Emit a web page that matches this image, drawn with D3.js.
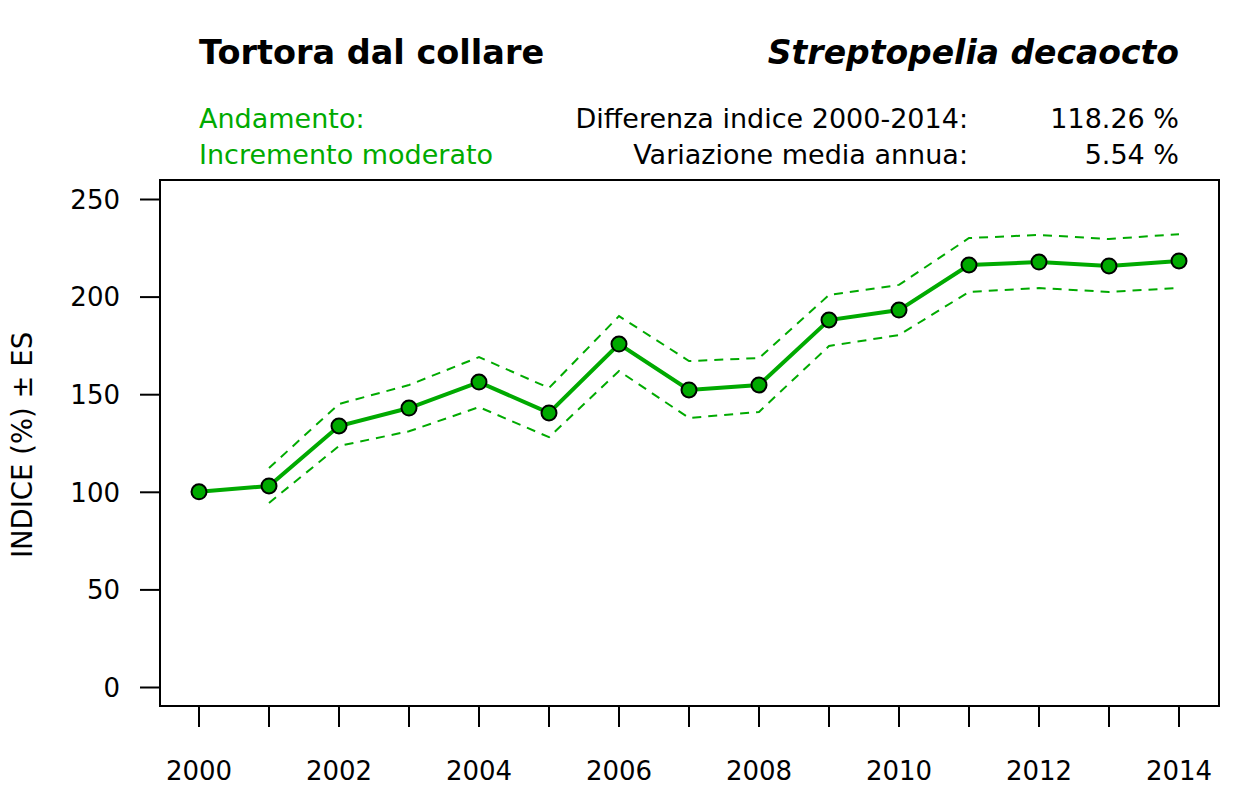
<!DOCTYPE html>
<html>
<head>
<meta charset="utf-8">
<script src="https://cdn.jsdelivr.net/npm/d3@7"></script>
<style>
  body { margin: 0; background: #fff; }
  svg text { font-family: "DejaVu Sans", Verdana, sans-serif; }
</style>
</head>
<body>
<div id="chart"></div>
<script>
// index values
var years = [2000, 2001, 2002, 2003, 2004, 2005, 2006, 2007, 2008, 2009, 2010, 2011, 2012, 2013, 2014];
var index = [100, 103, 133.7, 142.9, 156.2, 140.4, 175.7, 152.2, 154.7, 188, 193.1, 216.2, 217.7, 215.7, 218.26];
var upper = [null, 112.2, 145, 154.7, 169, 153.2, 190, 167, 168.5, 200.8, 206, 230, 231.6, 229.5, 232];
var lower = [null, 94.3, 123.5, 131, 143.4, 128, 161.9, 137.8, 140.9, 174.7, 180.3, 202.4, 204.4, 202.4, 204.4];
var yTicks = [0, 50, 100, 150, 200, 250];
var xLabels = [2000, 2002, 2004, 2006, 2008, 2010, 2012, 2014];

var green = "#00aa00";

var width = 1259, height = 787;
var box = { left: 160, right: 1219, top: 180, bottom: 706 };

var svg = d3.select("#chart").append("svg")
    .attr("width", width)
    .attr("height", height);

var x = d3.scaleLinear().domain([2000, 2014]).range([199, 1179]);
var y = d3.scaleLinear().domain([0, 250]).range([687, 199]);

// plot frame
svg.append("rect")
    .attr("x", box.left)
    .attr("y", box.top)
    .attr("width", box.right - box.left)
    .attr("height", box.bottom - box.top)
    .attr("fill", "none")
    .attr("stroke", "#000")
    .attr("stroke-width", 2);

// y axis
var yAxis = svg.append("g")
    .attr("transform", "translate(" + (box.left - 20) + ",0)")
    .call(d3.axisLeft(y).tickValues(yTicks).tickSize(0).tickPadding(20));
yAxis.select(".domain").remove();
yAxis.selectAll(".tick line").remove();
yAxis.selectAll(".tick").append("line")
    .attr("x1", 0).attr("x2", 20)
    .attr("stroke", "#000").attr("stroke-width", 2);
yAxis.selectAll("text")
    .attr("font-size", 26)
    .attr("fill", "#000")
    .attr("dy", "0.36em");

// x axis: ticks every year, labels every other year
var xAxis = svg.append("g")
    .attr("transform", "translate(0," + box.bottom + ")");
xAxis.selectAll("line.tick")
    .data(years)
    .enter().append("line")
    .attr("class", "tick")
    .attr("x1", function(d) { return x(d); })
    .attr("x2", function(d) { return x(d); })
    .attr("y1", 0).attr("y2", 21)
    .attr("stroke", "#000").attr("stroke-width", 2);
xAxis.selectAll("text")
    .data(xLabels)
    .enter().append("text")
    .attr("x", function(d) { return x(d); })
    .attr("y", 74)
    .attr("text-anchor", "middle")
    .attr("font-size", 26)
    .text(function(d) { return d; });

// y label
svg.append("text")
    .attr("transform", "translate(32,445)rotate(-90)")
    .attr("text-anchor", "middle")
    .attr("font-size", 27.5)
    .text("INDICE (%) \u00b1 ES");

// confidence band lines
var line = d3.line()
    .defined(function(d) { return d[1] != null; })
    .x(function(d) { return x(d[0]); })
    .y(function(d) { return y(d[1]); });

[upper, lower].forEach(function(arr) {
    svg.append("path")
        .datum(years.map(function(yr, i) { return [yr, arr[i]]; }))
        .attr("d", line)
        .attr("fill", "none")
        .attr("stroke", green)
        .attr("stroke-width", 2)
        .attr("stroke-dasharray", "9,7");
});

// main line
var pts = years.map(function(yr, i) { return [yr, index[i]]; });
svg.append("path")
    .datum(pts)
    .attr("d", line)
    .attr("fill", "none")
    .attr("stroke", green)
    .attr("stroke-width", 4);

svg.selectAll(".pt")
    .data(pts)
    .enter().append("circle")
    .attr("class", "pt")
    .attr("cx", function(d) { return x(d[0]); })
    .attr("cy", function(d) { return y(d[1]); })
    .attr("r", 7.5)
    .attr("fill", green)
    .attr("stroke", "#000")
    .attr("stroke-width", 2);

// header texts
svg.append("text")
    .attr("x", 199).attr("y", 64)
    .attr("font-size", 33.5).attr("font-weight", "bold")
    .text("Tortora dal collare");

svg.append("text")
    .attr("x", 1179).attr("y", 64)
    .attr("text-anchor", "end")
    .attr("font-size", 33).attr("font-weight", "bold").attr("font-style", "italic")
    .text("Streptopelia decaocto");

svg.append("text")
    .attr("x", 199).attr("y", 128)
    .attr("font-size", 27).attr("fill", green)
    .text("Andamento:");
svg.append("text")
    .attr("x", 199).attr("y", 164)
    .attr("font-size", 27).attr("fill", green)
    .text("Incremento moderato");

svg.append("text")
    .attr("x", 968).attr("y", 128)
    .attr("text-anchor", "end").attr("font-size", 27)
    .text("Differenza indice 2000-2014:");
svg.append("text")
    .attr("x", 968).attr("y", 164)
    .attr("text-anchor", "end").attr("font-size", 27)
    .text("Variazione media annua:");

svg.append("text")
    .attr("x", 1179).attr("y", 128)
    .attr("text-anchor", "end").attr("font-size", 27)
    .text("118.26 %");
svg.append("text")
    .attr("x", 1179).attr("y", 164)
    .attr("text-anchor", "end").attr("font-size", 27)
    .text("5.54 %");
</script>
</body>
</html>
